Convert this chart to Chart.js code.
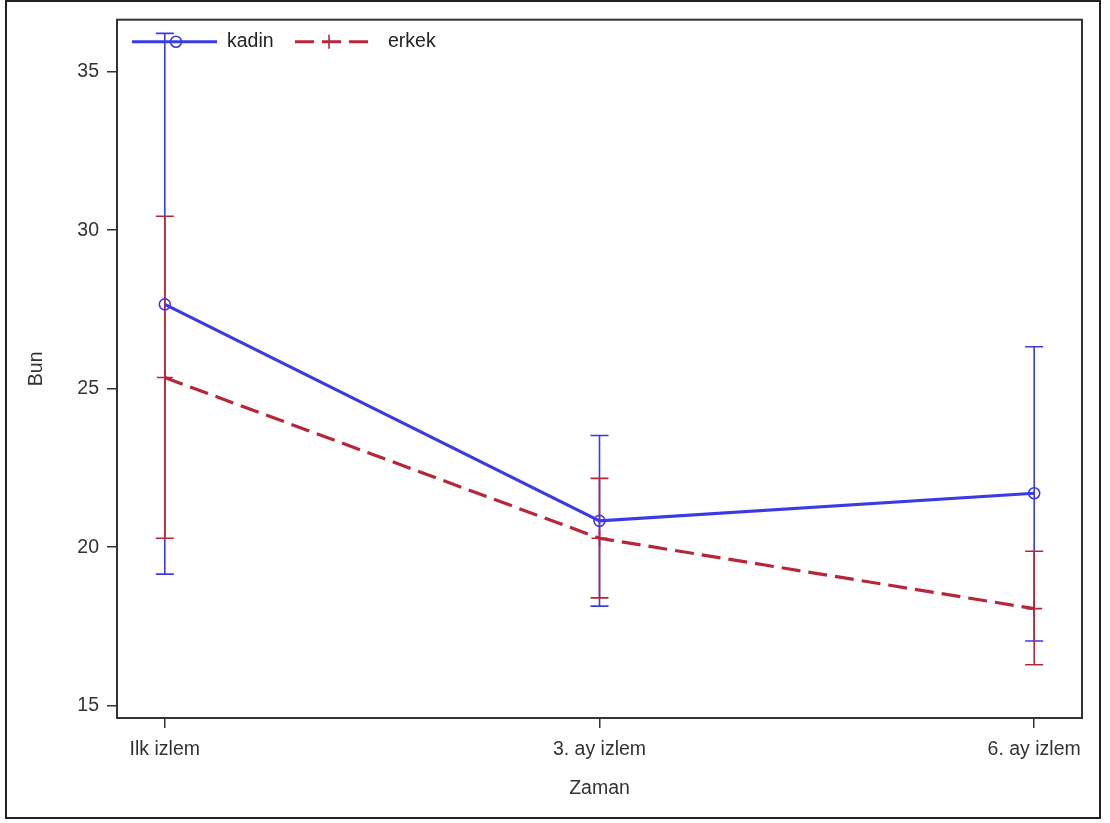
<!DOCTYPE html>
<html>
<head>
<meta charset="utf-8">
<script src="https://cdn.jsdelivr.net/npm/chart.js@4"></script>
<style>
  html, body { margin: 0; padding: 0; background: #fff; }
  #wrap { width: 1110px; height: 823px; }
</style>
</head>
<body>
<div id="wrap"><canvas id="myChart" width="1110" height="823"></canvas></div>
<script>
// zaman noktalari
const zaman = ['Ilk izlem', '3. ay izlem', '6. ay izlem'];

// kadin: ortalama ve hata cubuklari
const kadinOrt = [27.66, 20.83, 21.70];
const kadinAlt = [19.15, 18.14, 17.04];
const kadinUst = [36.21, 23.52, 26.32];

// erkek: ortalama ve hata cubuklari
const erkekOrt = [25.35, 20.28, 18.06];
const erkekAlt = [20.28, 18.40, 16.29];
const erkekUst = [30.44, 22.17, 19.87];

const yTicks = [15, 20, 25, 30, 35];

const MAVI = '#3b3be6';
const KIRMIZI = '#b8263a';
const FONT = { family: '"Liberation Sans", Arial, sans-serif', size: 19.5 };

Chart.defaults.font.family = FONT.family;
Chart.defaults.color = '#333';

// hata cubuklari
const hataCubugu = {
    id: 'hataCubugu',
    beforeDatasetsDraw(chart) {
        const ctx = chart.ctx;
        const x = chart.scales.x, y = chart.scales.y;
        const seriler = [
            { alt: kadinAlt, ust: kadinUst, renk: MAVI },
            { alt: erkekAlt, ust: erkekUst, renk: KIRMIZI }
        ];
        ctx.save();
        seriler.forEach(s => {
            ctx.strokeStyle = s.renk;
            ctx.lineWidth = 1.6;
            s.alt.forEach((lo, i) => {
                const px = x.getPixelForValue(i);
                const y1 = y.getPixelForValue(lo);
                const y2 = y.getPixelForValue(s.ust[i]);
                ctx.beginPath();
                ctx.moveTo(px, y1); ctx.lineTo(px, y2);
                ctx.moveTo(px - 9, y1); ctx.lineTo(px + 9, y1);
                ctx.moveTo(px - 9, y2); ctx.lineTo(px + 9, y2);
                ctx.stroke();
            });
        });
        ctx.restore();
    }
};

// cerceve ve lejant
const cerceve = {
    id: 'cerceve',
    afterDraw(chart) {
        const ctx = chart.ctx;
        const a = chart.chartArea;
        ctx.save();
        ctx.strokeStyle = '#333';
        ctx.lineWidth = 2;
        ctx.strokeRect(a.left, a.top, a.right - a.left, a.bottom - a.top);
        ctx.strokeStyle = '#222';
        ctx.strokeRect(6, 1, 1094, 817);

        // lejant
        const ly = a.top + 22;
        const lx = a.left + 15;
        ctx.lineWidth = 3;
        ctx.strokeStyle = MAVI;
        ctx.beginPath(); ctx.moveTo(lx, ly); ctx.lineTo(lx + 85, ly); ctx.stroke();
        ctx.lineWidth = 1.6;
        ctx.beginPath(); ctx.arc(lx + 44, ly, 5.5, 0, Math.PI * 2); ctx.stroke();
        ctx.fillStyle = '#222';
        ctx.font = '19.5px ' + FONT.family;
        ctx.textBaseline = 'middle';
        ctx.fillText('kadin', lx + 95, ly);

        const ex = lx + 163;
        ctx.strokeStyle = KIRMIZI;
        ctx.lineWidth = 3;
        ctx.setLineDash([19, 8]);
        ctx.beginPath(); ctx.moveTo(ex, ly); ctx.lineTo(ex + 78, ly); ctx.stroke();
        ctx.setLineDash([]);
        ctx.lineWidth = 1.6;
        ctx.beginPath();
        ctx.moveTo(ex + 34, ly - 7); ctx.lineTo(ex + 34, ly + 7);
        ctx.stroke();
        ctx.fillText('erkek', ex + 93, ly);
        ctx.restore();
    }
};

const ctx = document.getElementById('myChart').getContext('2d');
new Chart(ctx, {
    type: 'line',
    data: {
        datasets: [{
            label: 'kadin',
            data: kadinOrt.map((v, i) => ({ x: i, y: v })),
            borderColor: MAVI,
            borderWidth: 3.2,
            pointStyle: 'circle',
            pointRadius: 5.5,
            pointBorderWidth: 1.6,
            pointBorderColor: MAVI,
            pointBackgroundColor: 'rgba(0,0,0,0)',
            tension: 0,
            order: 2
        }, {
            label: 'erkek',
            data: erkekOrt.map((v, i) => ({ x: i, y: v })),
            borderColor: KIRMIZI,
            borderWidth: 3.2,
            borderDash: [19, 8],
            pointRadius: 0,
            tension: 0,
            order: 1
        }, {
            label: 'erkek-isaret',
            data: erkekOrt.map((v, i) => ({ x: i, y: v })),
            showLine: false,
            pointStyle: 'cross',
            pointRadius: 8,
            pointBorderWidth: 1.6,
            pointBorderColor: KIRMIZI,
            order: 0
        }]
    },
    options: {
        responsive: false,
        animation: false,
        layout: { padding: { left: 0, right: 28, top: 18, bottom: 0 } },
        plugins: {
            legend: { display: false },
            tooltip: { enabled: false }
        },
        scales: {
            x: {
                type: 'linear',
                min: -0.11,
                max: 2.11,
                afterBuildTicks: (s) => { s.ticks = zaman.map((_, i) => ({ value: i })); },
                afterFit: (s) => { s.height = 105; },
                ticks: {
                    callback: (v) => zaman[v],
                    font: FONT,
                    color: '#333',
                    padding: 10,
                    maxRotation: 0
                },
                grid: { drawOnChartArea: false, drawTicks: true, tickLength: 10, color: '#333', lineWidth: 1.5 },
                border: { display: true, color: '#333', width: 2 },
                title: { display: true, text: 'Zaman', font: FONT, color: '#333', padding: { top: 0, bottom: 23 } }
            },
            y: {
                min: 14.61,
                max: 36.64,
                afterBuildTicks: (s) => { s.ticks = yTicks.map(v => ({ value: v })); },
                afterFit: (s) => { s.width = 117; },
                ticks: { font: FONT, color: '#333', padding: 8 },
                grid: { drawOnChartArea: false, drawTicks: true, tickLength: 10, color: '#333', lineWidth: 1.5 },
                border: { display: true, color: '#333', width: 2 },
                title: { display: true, text: 'Bun', font: FONT, color: '#333', padding: { top: 25, bottom: 0 } }
            }
        }
    },
    plugins: [hataCubugu, cerceve]
});
</script>
</body>
</html>
